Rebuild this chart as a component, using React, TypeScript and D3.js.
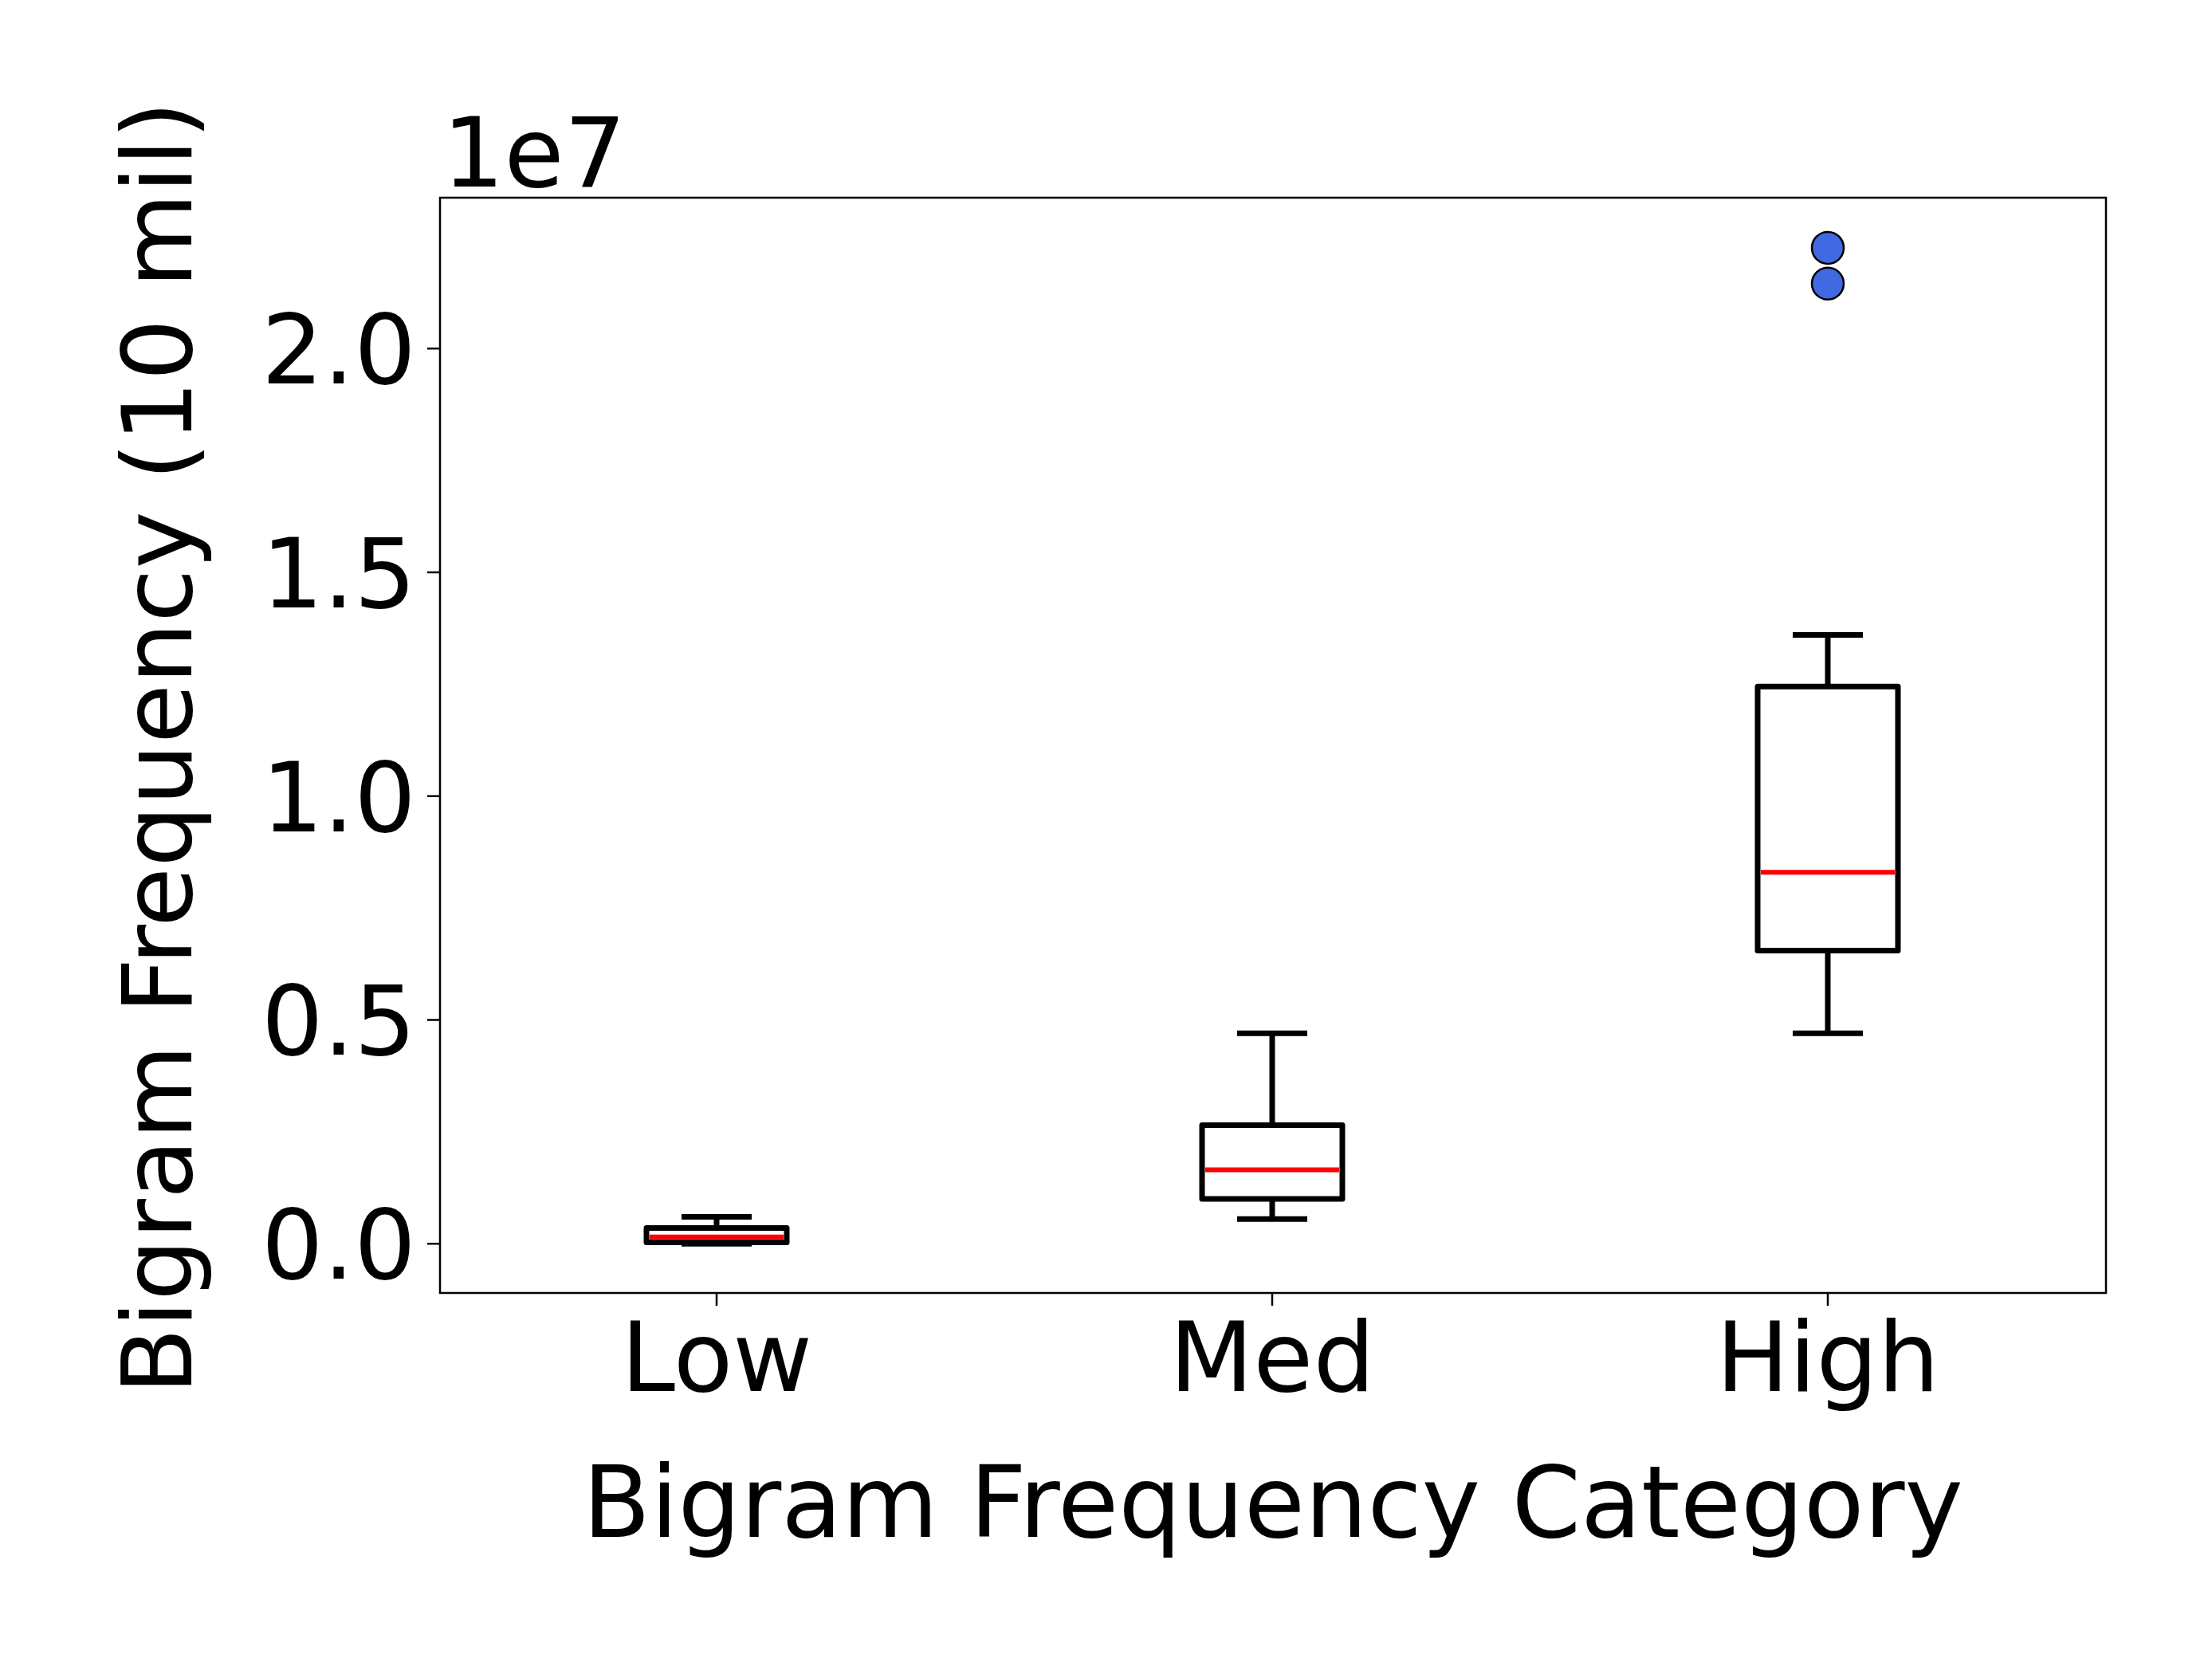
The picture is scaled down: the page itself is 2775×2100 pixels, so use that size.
import React from "react";
import * as d3 from "d3";

// values in units of 1e7
const categories = ["Low", "Med", "High"];
const whiskerLow = [0.0, 0.055, 0.47];
const q1 = [0.003, 0.1, 0.655];
const median = [0.015, 0.165, 0.83];
const q3 = [0.035, 0.265, 1.245];
const whiskerHigh = [0.06, 0.47, 1.36];
const outliers = [[], [], [2.145, 2.225]];
const yTicks = [0, 0.5, 1.0, 1.5, 2.0];

const W = 2775, H = 2100;
const m = { left: 552, right: 2642, top: 248, bottom: 1622 };

export default function App() {
  const x = d3.scalePoint().domain(categories).range([899, 2293]);
  const y = d3.scaleLinear().domain([-0.11, 2.337]).range([m.bottom, m.top]);
  const boxW = 176, capW = 88;
  const font = "DejaVu Sans, sans-serif";
  return (
    <svg width={W} height={H} style={{ position: "absolute", left: 0, top: 0, background: "#fff" }} fontFamily={font}>
      {categories.map((c, i) => {
        const cx = x(c)!;
        return (
          <g key={c} stroke="#000" strokeWidth={7} fill="none">
            <line x1={cx} x2={cx} y1={y(whiskerLow[i])} y2={y(q1[i])} />
            <line x1={cx} x2={cx} y1={y(q3[i])} y2={y(whiskerHigh[i])} />
            <line x1={cx - capW / 2} x2={cx + capW / 2} y1={y(whiskerLow[i])} y2={y(whiskerLow[i])} />
            <line x1={cx - capW / 2} x2={cx + capW / 2} y1={y(whiskerHigh[i])} y2={y(whiskerHigh[i])} />
            <rect x={cx - boxW / 2} y={y(q3[i])} width={boxW} height={y(q1[i]) - y(q3[i])} strokeLinejoin="round" />
            <line x1={cx - boxW / 2 + 4} x2={cx + boxW / 2 - 4} y1={y(median[i])} y2={y(median[i])} stroke="#ff0000" strokeWidth={6} />
            {outliers[i].map((v, j) => (
              <circle key={j} cx={cx} cy={y(v)} r={20} fill="#4169e1" stroke="#000" strokeWidth={2.5} />
            ))}
          </g>
        );
      })}
      <rect x={m.left} y={m.top} width={m.right - m.left} height={m.bottom - m.top} fill="none" stroke="#000" strokeWidth={2.5} />
      {yTicks.map((t) => (
        <g key={t}>
          <line x1={m.left - 16} x2={m.left} y1={y(t)} y2={y(t)} stroke="#000" strokeWidth={2.5} />
          <text x={m.left - 30} y={y(t)} dy="0.36em" textAnchor="end" fontSize={122}>{t.toFixed(1)}</text>
        </g>
      ))}
      {categories.map((c) => (
        <g key={c}>
          <line x1={x(c)} x2={x(c)} y1={m.bottom} y2={m.bottom + 16} stroke="#000" strokeWidth={2.5} />
          <text x={x(c)} y={1745} textAnchor="middle" fontSize={122}>{c}</text>
        </g>
      ))}
      <text x={555} y={234} fontSize={122}>1e7</text>
      <text x={(m.left + m.right) / 2} y={1928} textAnchor="middle" fontSize={124}>Bigram Frequency Category</text>
      <text transform={`translate(240, 938) rotate(-90)`} textAnchor="middle" fontSize={122}>Bigram Frequency (10 mil)</text>
    </svg>
  );
}
